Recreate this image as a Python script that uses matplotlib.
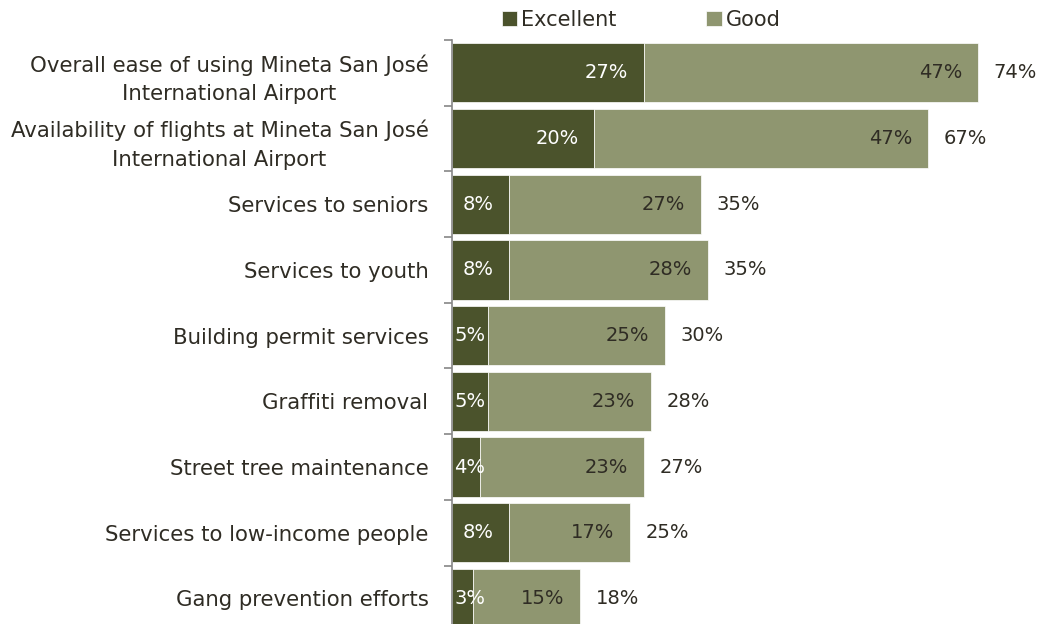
import matplotlib.pyplot as plt
import numpy as np
from matplotlib.ticker import FixedLocator

categories = [
    "Overall ease of using Mineta San José\nInternational Airport",
    "Availability of flights at Mineta San José\nInternational Airport",
    "Services to seniors",
    "Services to youth",
    "Building permit services",
    "Graffiti removal",
    "Street tree maintenance",
    "Services to low-income people",
    "Gang prevention efforts",
]
excellent = [27, 20, 8, 8, 5, 5, 4, 8, 3]
good = [47, 47, 27, 28, 25, 23, 23, 17, 15]
totals = [74, 67, 35, 35, 30, 28, 27, 25, 18]

dark = "#4b532c"
light = "#8f9670"
txt = "#2f2c24"

plt.rcParams['font.family'] = ['DejaVu Sans']

fig = plt.figure(figsize=(10.41, 6.24), dpi=100)
ax = fig.add_axes([0.4342, -0.0117, 0.5458, 0.9476])

y = np.arange(len(categories))
b1 = ax.barh(y, excellent, height=0.9, color=dark, edgecolor="white", linewidth=0.5, label="Excellent")
b2 = ax.barh(y, good, left=excellent, height=0.9, color=light, edgecolor="white", linewidth=0.5, label="Good")

pad = 2.2
for i in range(len(categories)):
    e = excellent[i]
    g = good[i]
    # excellent label sits at the inside end, pushed right when the segment is too narrow
    if e >= 6:
        ax.text(e - pad, y[i], f"{e}%", ha="right", va="center", color="white", fontsize=14)
    else:
        ax.text(0.3, y[i], f"{e}%", ha="left", va="center", color="white", fontsize=14)
    ax.text(e + g - pad, y[i], f"{g}%", ha="right", va="center", color=txt, fontsize=14)
    ax.text(e + g + 2.2, y[i], f"{totals[i]}%", ha="left", va="center", color=txt, fontsize=14, clip_on=False)

ax.set_xlim(0, 80)
ax.set_ylim(len(categories) - 0.5, -0.5)
ax.set_yticks(y)
ax.set_yticklabels(categories, fontsize=15.3, color=txt, multialignment="center", linespacing=1.55)
ax.tick_params(axis="y", which="major", length=0, pad=17)
ax.yaxis.set_minor_locator(FixedLocator(np.arange(-0.5, len(categories), 1)))
ax.tick_params(axis="y", which="minor", length=6, width=1.2, color="#868686", direction="out")
ax.set_xticks([])
for s in ["top", "right", "bottom"]:
    ax.spines[s].set_visible(False)
ax.spines["left"].set_color("#868686")
ax.spines["left"].set_linewidth(1.2)

fig.legend(handles=[b1, b2], loc="center", bbox_to_anchor=(0.616, 0.968), ncol=2, frameon=False,
           fontsize=15, handlelength=0.75, handleheight=0.75, handletextpad=0.2, columnspacing=4.3,
           labelcolor=txt)

fig.savefig("out.png", dpi=100)
